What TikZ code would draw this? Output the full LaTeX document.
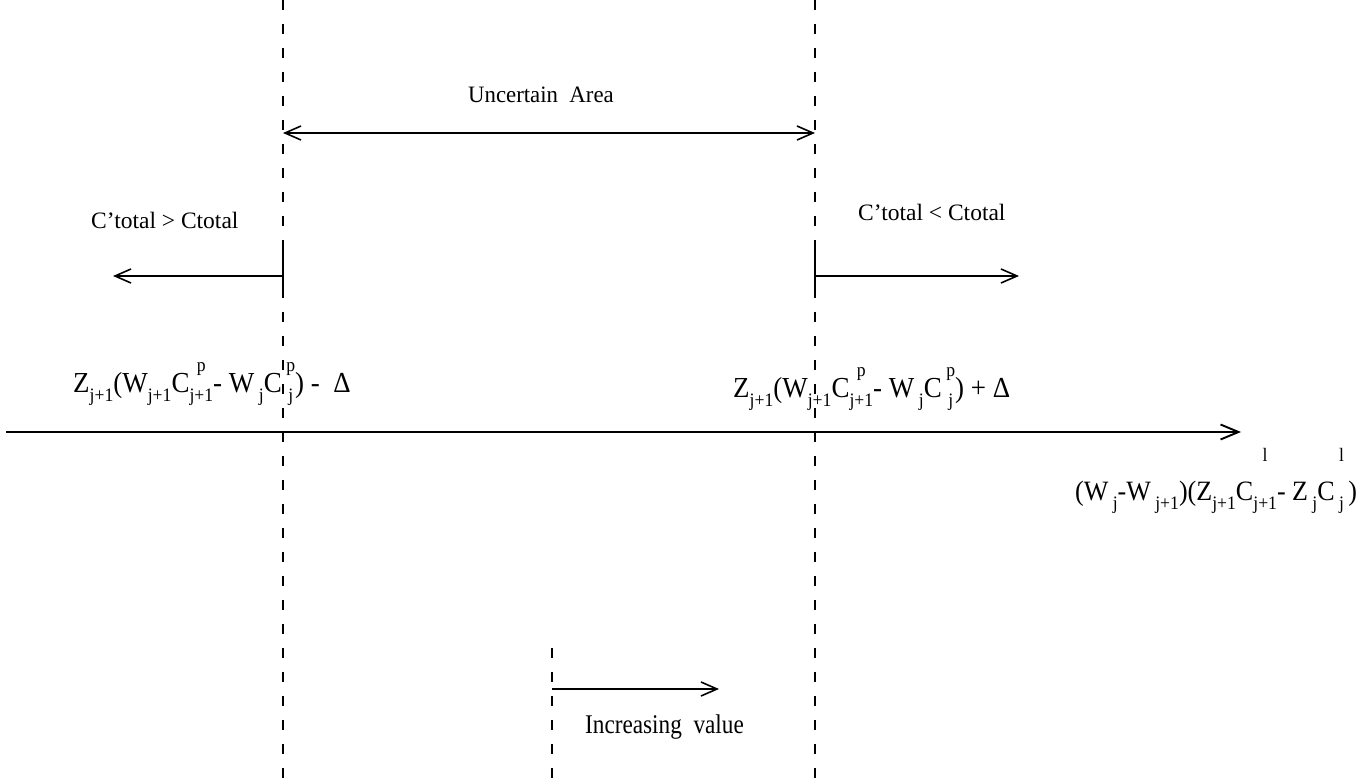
\documentclass[tikz,border=0pt]{standalone}
\usepackage{graphicx}
\usepackage{fontspec}
\setmainfont{Liberation Serif}
\usetikzlibrary{arrows.meta}

% index sizes and placement for the cost expressions
\newcommand\subf{\fontsize{19}{19}\selectfont}
\newcommand\lo[1]{\raisebox{-0.33em}{\subf #1}}
% upper index centred over the lower one
\newcommand\st[3][0.72em]{\ooalign{\hfil\raisebox{#1}{\subf #2}\hfil\cr\hfil\raisebox{-0.33em}{\subf #3}\hfil\cr}}

\tikzset{
  guide/.style={line width=1.2pt, dash pattern=on 10pt off 14pt},
  tick/.style={line width=1.6pt},
  arr/.style={line width=1.6pt, -{Straight Barb[length=16pt,width=14pt]}},
  darr/.style={line width=1.6pt, {Straight Barb[length=16pt,width=14pt]}-{Straight Barb[length=16pt,width=14pt]}},
  axis/.style={line width=1.9pt, -{Straight Barb[length=18pt,width=15pt]}},
  lbl/.style={inner sep=0pt, anchor=base west, font=\fontsize{23.5}{23.5}\selectfont},
  formula/.style={inner sep=0pt, anchor=base west, font=\fontsize{29}{29}\selectfont},
}

\begin{document}
\begin{tikzpicture}[x=1pt, y=-1pt]
\useasboundingbox (0,0) rectangle (1365,778);

% vertical guide lines
\coordinate (lt) at (283,0);   \coordinate (lb) at (283,778);
\coordinate (rt) at (815,0);   \coordinate (rb) at (815,778);
\coordinate (mt) at (552,648); \coordinate (mb) at (552,778);
\draw[guide] (lt) -- (lb);
\draw[guide] (rt) -- (rb);
\draw[guide] (mt) -- (mb);

% uncertain area
\node[lbl] (ua) at (468,103) {\scalebox{0.97}[1]{Uncertain\ \ Area}};
\coordinate (ual) at (283,133); \coordinate (uar) at (815,133);
\draw[darr] (ual) -- (uar);

% left and right regions
\node[lbl] (cgt) at (91,229) {C’total > Ctotal};
\node[lbl] (clt) at (858,221) {C’total < Ctotal};
\coordinate (lt1) at (283,248); \coordinate (lt2) at (283,298);
\coordinate (rt1) at (815,248); \coordinate (rt2) at (815,298);
\draw[tick] (lt1) -- (lt2);
\draw[tick] (rt1) -- (rt2);
\coordinate (la0) at (283,276); \coordinate (la1) at (113,276);
\coordinate (ra0) at (815,276); \coordinate (ra1) at (1019,276);
\draw[arr] (la0) -- (la1);
\draw[arr] (ra0) -- (ra1);

% bounds of the uncertain area
\node[formula] (fl) at (73,392) {\scalebox{0.93}[1]{Z\lo{j+1}(W\lo{j+1}C\st{p}{j+1}- W\,\lo{j}C\,\st{p}{j}) -\ \ Δ}};
\node[formula] (fr) at (733,397) {\scalebox{0.93}[1]{Z\lo{j+1}(W\lo{j+1}C\st{p}{j+1}- W\,\lo{j}C\,\st{p}{j}) + Δ}};

% value axis
\coordinate (ax0) at (6,432); \coordinate (ax1) at (1241,432);
\draw[axis] (ax0) -- (ax1);
\node[formula, font=\fontsize{28}{28}\selectfont] (fx) at (1075,500)
  {\scalebox{0.93}[1]{(W\,\lo{j}-W\,\lo{j+1})(Z\lo{j+1}C\st[1.38em]{l}{j+1}- Z\,\lo{j}C\,\st[1.38em]{l}{j}\,)}};

% direction of increase
\coordinate (iv0) at (552,689); \coordinate (iv1) at (719,689);
\draw[arr] (iv0) -- (iv1);
\node[lbl, font=\fontsize{27}{27}\selectfont] (iv) at (585,733) {\scalebox{0.86}[1]{Increasing\ \ value}};
\end{tikzpicture}
\end{document}
